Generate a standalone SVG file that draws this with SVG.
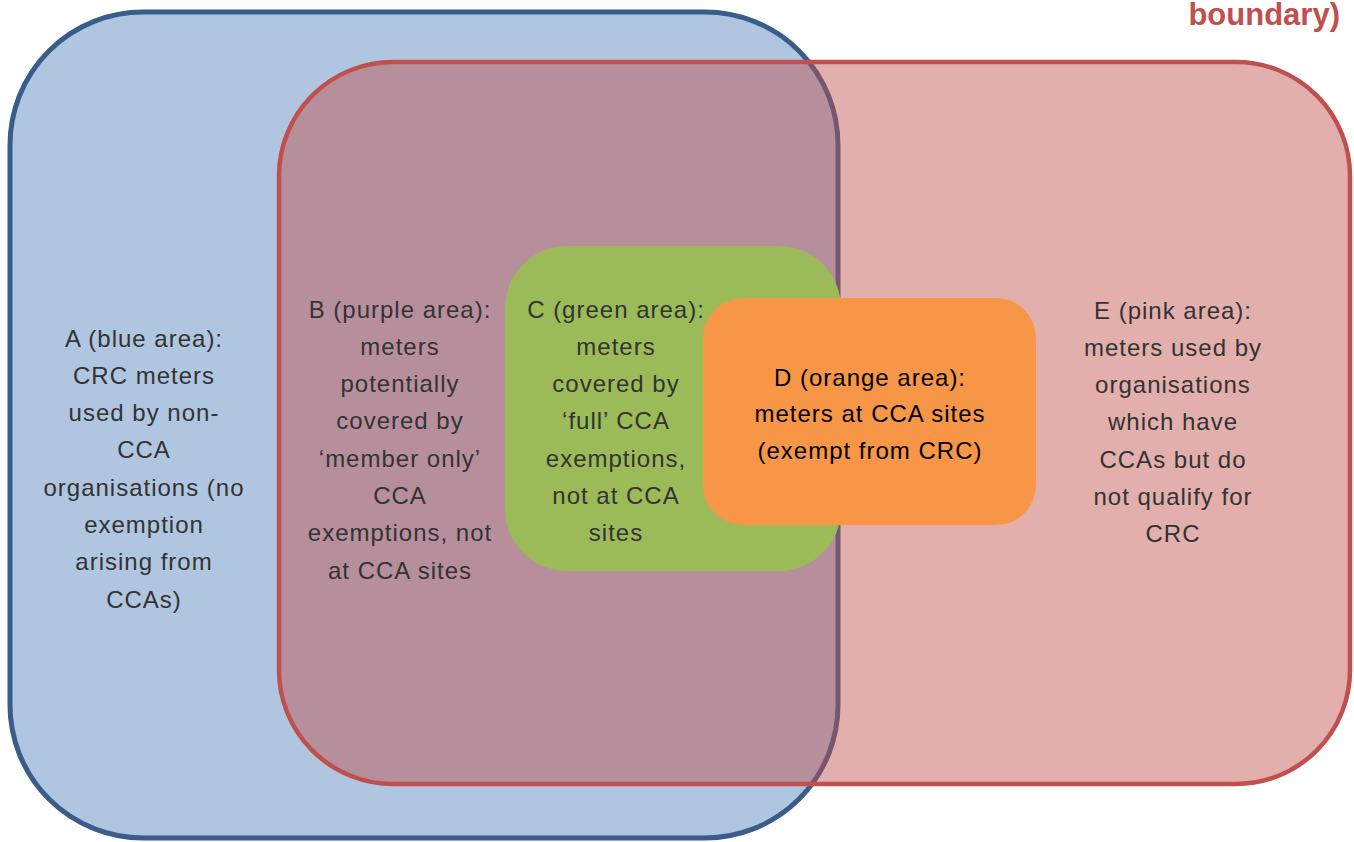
<svg xmlns="http://www.w3.org/2000/svg" width="1354" height="842" viewBox="0 0 1354 842">
<style>
.t{font-family:"Liberation Sans",Arial,sans-serif;font-size:24px;letter-spacing:1px;fill:#333333;text-anchor:middle}
.d{fill:#000000}
.title{font-family:"Liberation Sans",Arial,sans-serif;font-size:31px;font-weight:bold;fill:#c0504d;text-anchor:end}
</style>
<rect width="1354" height="842" fill="#ffffff"/>
<text class="title" x="1340" y="25">boundary)</text>
<g id="blue">
<rect x="10" y="12" width="828" height="826" rx="133" ry="133" fill="#b0c5e0" stroke="#385d8a" stroke-width="5"/>
</g>
<g id="red">
<rect x="279" y="62" width="1071" height="722" rx="114" ry="114" fill="#c0504d" fill-opacity="0.46" stroke="#c0504d" stroke-width="4.5"/>
</g>
<g id="green">
<rect x="505" y="246" width="336" height="325" rx="62" ry="62" fill="#9bbb59"/>
</g>
<g id="orange">
<rect x="703" y="298" width="333" height="227" rx="40" ry="40" fill="#f79646"/>
</g>
<g id="labelA">
<text class="t" x="144" y="347">A (blue area):</text>
<text class="t" x="144" y="384">CRC meters</text>
<text class="t" x="144" y="421">used by non-</text>
<text class="t" x="144" y="458">CCA</text>
<text class="t" x="144" y="496">organisations (no</text>
<text class="t" x="144" y="533">exemption</text>
<text class="t" x="144" y="570">arising from</text>
<text class="t" x="144" y="608">CCAs)</text>
</g>
<g id="labelB">
<text class="t" x="400" y="318">B (purple area):</text>
<text class="t" x="400" y="355">meters</text>
<text class="t" x="400" y="392">potentially</text>
<text class="t" x="400" y="429">covered by</text>
<text class="t" x="400" y="467">‘member only’</text>
<text class="t" x="400" y="504">CCA</text>
<text class="t" x="400" y="541">exemptions, not</text>
<text class="t" x="400" y="579">at CCA sites</text>
</g>
<g id="labelC">
<text class="t" x="616" y="318">C (green area):</text>
<text class="t" x="616" y="355">meters</text>
<text class="t" x="616" y="392">covered by</text>
<text class="t" x="616" y="429">‘full’ CCA</text>
<text class="t" x="616" y="467">exemptions,</text>
<text class="t" x="616" y="504">not at CCA</text>
<text class="t" x="616" y="541">sites</text>
</g>
<g id="labelD">
<text class="t d" x="870" y="386">D (orange area):</text>
<text class="t d" x="870" y="422">meters at CCA sites</text>
<text class="t d" x="870" y="459">(exempt from CRC)</text>
</g>
<g id="labelE">
<text class="t" x="1173" y="319">E (pink area):</text>
<text class="t" x="1173" y="356">meters used by</text>
<text class="t" x="1173" y="393">organisations</text>
<text class="t" x="1173" y="430">which have</text>
<text class="t" x="1173" y="468">CCAs but do</text>
<text class="t" x="1173" y="505">not qualify for</text>
<text class="t" x="1173" y="542">CRC</text>
</g>
<g id="connectors"></g>
</svg>
